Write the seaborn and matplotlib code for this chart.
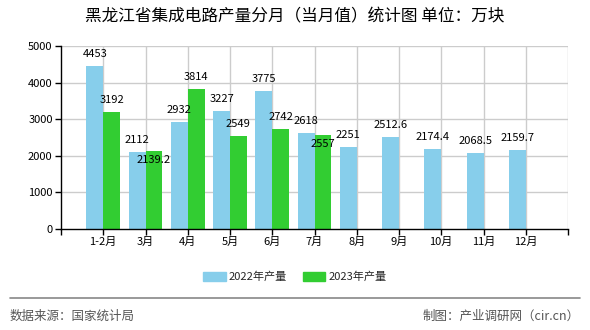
import matplotlib
matplotlib.use("Agg")
import matplotlib.pyplot as plt
import seaborn as sns
import pandas as pd
from matplotlib.lines import Line2D

# Monthly output (10k pieces)
months = ["1-2月", "3月", "4月", "5月", "6月", "7月", "8月", "9月", "10月", "11月", "12月"]
series_names = ["2022年产量", "2023年产量"]
values_2022 = [4453, 2112, 2932, 3227, 3775, 2618, 2251, 2512.6, 2174.4, 2068.5, 2159.7]
values_2023 = [3192, 2139.2, 3814, 2549, 2742, 2557]
yticks = [0, 1000, 2000, 3000, 4000, 5000]

title = "黑龙江省集成电路产量分月（当月值）统计图 单位：万块"
source_text = "数据来源：国家统计局"
credit_text = "制图：产业调研网（cir.cn）"

colors = {"2022年产量": "#87CEEB", "2023年产量": "#32CD32"}

rows = [(m, series_names[0], v) for m, v in zip(months, values_2022)]
rows += [(m, series_names[1], v) for m, v in zip(months, values_2023)]
df = pd.DataFrame(rows, columns=["月份", "系列", "产量"])

sns.set_theme(style="white")
plt.rcParams["font.family"] = ["Noto Sans CJK SC", "DejaVu Sans"]
plt.rcParams["axes.unicode_minus"] = False

fig = plt.figure(figsize=(5.9, 3.3), dpi=100)
ax = fig.add_axes([61 / 590, 1 - 229 / 330, (568 - 61) / 590, (229 - 46) / 330])

sns.barplot(data=df, x="月份", y="产量", hue="系列", order=months,
            hue_order=series_names, palette=colors, width=0.8,
            saturation=1, errorbar=None, legend=False, ax=ax, zorder=3,
            linewidth=0, edgecolor="none")

ax.set_xlim(-1, len(months))
ax.set_ylim(0, 5000)
ax.set_yticks(yticks)
ax.set_xlabel("")
ax.set_ylabel("")

# light grid: horizontal at y ticks, vertical at category centres and right edge
for y in yticks[1:]:
    ax.axhline(y, color="#cccccc", lw=1, zorder=1)
for x in list(range(len(months))) + [len(months)]:
    ax.axvline(x, color="#cccccc", lw=1, zorder=1)

for side in ["top", "right"]:
    ax.spines[side].set_visible(False)
for side in ["left", "bottom"]:
    ax.spines[side].set_color("black")
    ax.spines[side].set_linewidth(1)
    ax.spines[side].set_zorder(4)

ax.tick_params(axis="both", which="major", length=4, width=1, color="black",
               labelsize=8, labelcolor="black", pad=2, direction="out")
ax.tick_params(axis="x", bottom=True)
ax.tick_params(axis="y", left=True)
ax.set_xticks([-1, len(months)], minor=True)
ax.tick_params(axis="x", which="minor", bottom=True, length=4, width=1, color="black")

# value labels; two 2023 labels sit inside their bars to clear neighbours
label_shift = {(1, 1): -10, (1, 5): -10}
for si, cont in enumerate(ax.containers):
    vals = values_2022 if si == 0 else values_2023
    for bi, (bar, v) in enumerate(zip(cont, vals)):
        cx = bar.get_x() + bar.get_width() / 2
        dy = label_shift.get((si, bi), 5)
        ax.annotate(f"{v:g}", (cx, bar.get_height()), xytext=(0, dy),
                    textcoords="offset points", ha="center", va="bottom",
                    fontsize=8, color="black", zorder=5)

fig.text(0.5, 1 - 17 / 330, title, ha="center", va="center", fontsize=12,
         color="black")

handles = [plt.Rectangle((0, 0), 1, 1, color=colors[n]) for n in series_names]
fig.legend(handles, series_names, loc="center", bbox_to_anchor=(0.5, 1 - 277 / 330),
           ncol=2, frameon=False, fontsize=8, handlelength=2.0, handleheight=0.9,
           handletextpad=0.3, columnspacing=1.4)

fig.add_artist(Line2D([10 / 590, 580 / 590], [1 - 298 / 330, 1 - 298 / 330],
                      color="#888888", lw=1.2, transform=fig.transFigure))
fig.text(10 / 590, 1 - 316 / 330, source_text, ha="left", va="center",
         fontsize=9, color="#555555")
fig.text(580 / 590, 1 - 316 / 330, credit_text, ha="right", va="center",
         fontsize=9, color="#555555")

fig.savefig("out.png", dpi=100)
